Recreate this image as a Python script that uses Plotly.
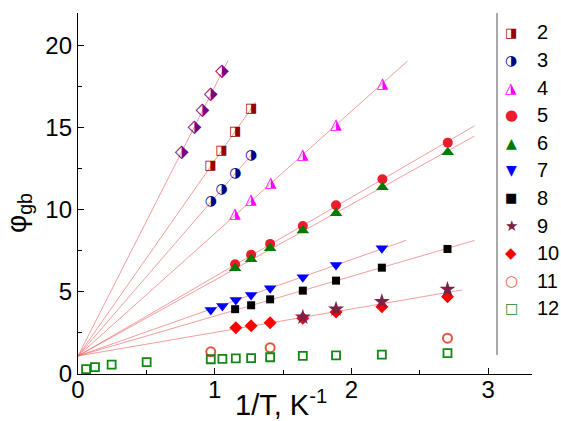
import numpy as np
import plotly.graph_objects as go

# ---- data (x = 1/T, y = phi_gb) ----
x1 = [0.759, 0.851, 0.909, 0.971, 1.053]
y1 = [13.49, 15.02, 16.04, 17.05, 18.41]
x2 = [0.968, 1.048, 1.149, 1.266]
y2 = [12.70, 13.58, 14.74, 16.14]
x3 = [0.971, 1.051, 1.151, 1.266]
y3 = [10.51, 11.26, 12.21, 13.31]
x4 = [1.149, 1.266, 1.410, 1.644, 1.887, 2.226]
y4 = [9.74, 10.61, 11.63, 13.35, 15.14, 17.66]
x5 = [1.149, 1.266, 1.405, 1.644, 1.887, 2.226, 2.704]
y5 = [6.69, 7.26, 7.93, 9.02, 10.28, 11.87, 14.10]
x6 = [1.149, 1.266, 1.405, 1.644, 1.887, 2.226, 2.704]
y6 = [6.45, 6.99, 7.66, 8.74, 9.80, 11.38, 13.52]
x7 = [0.971, 1.056, 1.154, 1.266, 1.405, 1.644, 1.887, 2.222]
y7 = [3.90, 4.15, 4.51, 4.82, 5.23, 5.90, 6.65, 7.66]
x8 = [1.149, 1.266, 1.405, 1.644, 1.887, 2.222, 2.702]
y8 = [3.95, 4.19, 4.55, 5.08, 5.69, 6.48, 7.62]
x9 = [1.644, 1.887, 2.222, 2.702]
y9 = [3.46, 3.95, 4.41, 5.16]
x10 = [1.154, 1.266, 1.405, 1.644, 1.887, 2.222, 2.702]
y10 = [2.82, 2.94, 3.13, 3.40, 3.78, 4.10, 4.71]
x11 = [0.971, 1.405, 2.702]
y11 = [1.35, 1.60, 2.18]
x12 = [0.059, 0.124, 0.246, 0.502, 0.971, 1.056, 1.154, 1.266, 1.405,
       1.644, 1.887, 2.222, 2.702]
y12 = [0.30, 0.42, 0.57, 0.72, 0.90, 0.92, 0.95, 0.97, 1.02, 1.10, 1.13,
       1.18, 1.27]

legend_names = ["2", "3", "4", "5", "6", "7", "8", "9", "10", "11", "12"]

# common intercept of the fitted lines and the x where each fit line ends
fit_intercept = 1.1
fit_groups = [["1"], ["2"], ["3"], ["4"], ["5"], ["6"], ["7"], ["8"], ["9", "10"]]
fit_end_x = [1.097, 1.30, 1.28, 2.41, 2.90, 2.90, 2.40, 2.90, 2.81]

data = {
    "1": (x1, y1), "2": (x2, y2), "3": (x3, y3), "4": (x4, y4),
    "5": (x5, y5), "6": (x6, y6), "7": (x7, y7), "8": (x8, y8),
    "9": (x9, y9), "10": (x10, y10), "11": (x11, y11), "12": (x12, y12),
}

# ---- styles ----
text_style = {  # half-filled symbols drawn as glyphs
    "1": ("\u2B17", "#800080", 18),
    "2": ("\u25E8", "#990000", 13),
    "3": ("\u25D1", "#000080", 14),
    "4": ("\u25EE", "#ff00ff", 15),
}
marker_style = {
    "5": dict(symbol="circle", color="#ec1c2c", size=10),
    "6": dict(symbol="triangle-up", color="#007a00", size=11),
    "7": dict(symbol="triangle-down", color="#0000ff", size=11),
    "8": dict(symbol="square", color="#000000", size=8),
    "9": dict(symbol="star", color="#7a2348", size=12),
    "10": dict(symbol="diamond", color="#ff0000", size=10),
    "11": dict(symbol="circle-open", color="#e5553c", size=9, line=dict(width=2, color="#e5553c")),
    "12": dict(symbol="square-open", color="#118811", size=8, line=dict(width=1.8, color="#118811")),
}
legend_glyph = {
    "5": ("\u25CF", 15), "6": ("\u25B2", 14), "7": ("\u25BC", 14),
    "8": ("\u25A0", 13), "9": ("\u2605", 15), "10": ("\u25C6", 15),
    "11": ("\u25CB", 15), "12": ("\u25A1", 14),
}
line_color = "rgba(235,100,100,0.8)"
font_family = "Liberation Sans, Arial, sans-serif"
glyph_family = "DejaVu Sans"

fig = go.Figure()

# fitted lines (least squares with fixed common intercept)
for grp, xe in zip(fit_groups, fit_end_x):
    xs = np.concatenate([np.array(data[k][0]) for k in grp])
    ys = np.concatenate([np.array(data[k][1]) for k in grp])
    slope = np.sum(xs * (ys - fit_intercept)) / np.sum(xs * xs)
    lx = np.array([0.0, xe])
    fig.add_trace(go.Scatter(x=lx, y=fit_intercept + slope * lx, mode="lines",
                             line=dict(color=line_color, width=0.8),
                             showlegend=False, hoverinfo="skip"))

for k in ["1", "2", "3", "4"]:
    g, c, s = text_style[k]
    xs, ys = data[k]
    fig.add_trace(go.Scatter(x=xs, y=ys, mode="text", text=[g] * len(xs),
                             textposition="middle center",
                             textfont=dict(family=glyph_family, size=s, color=c),
                             showlegend=False))

for k in ["5", "6", "7", "8", "10", "9", "11", "12"]:
    xs, ys = data[k]
    fig.add_trace(go.Scatter(x=xs, y=ys, mode="markers", marker=marker_style[k],
                             showlegend=False, name=k))

# ---- plot geometry ----
L, R, T, B = 78, 29, 13, 47
W, H = 561, 421
pw, ph = W - L - R, H - T - B

def px_to_paper_x(px):
    return (px - L) / pw

def px_to_paper_y(py):
    return (H - B - py) / ph

annotations = []
leg_top, leg_step = 32.3, 27.6
for i, name in enumerate(legend_names):
    py = leg_top + i * leg_step
    if name in text_style:
        g, c, s = text_style[name]
    else:
        g, s = legend_glyph[name]
        c = marker_style[name]["color"]
    annotations.append(dict(xref="paper", yref="paper", x=px_to_paper_x(511),
                            y=px_to_paper_y(py), text=g, showarrow=False,
                            xanchor="center", yanchor="middle",
                            font=dict(family=glyph_family, size=s, color=c)))
    annotations.append(dict(xref="paper", yref="paper", x=px_to_paper_x(535),
                            y=px_to_paper_y(py), text=name, showarrow=False,
                            xanchor="left", yanchor="middle",
                            font=dict(family=font_family, size=20, color="black")))

annotations.append(dict(xref="paper", yref="paper", x=px_to_paper_x(281),
                        y=px_to_paper_y(403), text="1/T, K<sup>-1</sup>",
                        showarrow=False, xanchor="center", yanchor="middle",
                        font=dict(family=font_family, size=29, color="black")))
annotations.append(dict(xref="paper", yref="paper", x=px_to_paper_x(18),
                        y=px_to_paper_y(213), text="\u03C6<sub>gb</sub>",
                        showarrow=False, xanchor="center", yanchor="middle",
                        textangle=-90,
                        font=dict(family=font_family, size=28, color="black")))

shapes = [dict(type="line", xref="paper", yref="paper",
               x0=px_to_paper_x(497), x1=px_to_paper_x(497),
               y0=px_to_paper_y(13), y1=px_to_paper_y(355),
               line=dict(color="#555555", width=1))]

fig.update_layout(
    width=W, height=H, margin=dict(l=L, r=R, t=T, b=B, pad=0),
    paper_bgcolor="white", plot_bgcolor="white",
    annotations=annotations, shapes=shapes, showlegend=False,
    font=dict(family=font_family, color="black"),
)
fig.update_xaxes(range=[0, 3.32], showline=True, linecolor="black", linewidth=1.3,
                 ticks="inside", ticklen=6, tickwidth=1, tickcolor="black",
                 tickvals=[0, 1, 2, 3], showgrid=False, zeroline=False,
                 ticklabelstandoff=-6,
                 tickfont=dict(size=24, family=font_family),
                 minor=dict(ticks="inside", ticklen=4, dtick=0.5, tick0=0,
                            tickcolor="black", showgrid=False))
fig.update_yaxes(range=[0, 22], showline=True, linecolor="black", linewidth=1.3,
                 ticks="inside", ticklen=6, tickwidth=1, tickcolor="black",
                 tickvals=[0, 5, 10, 15, 20], showgrid=False, zeroline=False,
                 tickfont=dict(size=24, family=font_family),
                 minor=dict(ticks="inside", ticklen=4, dtick=2.5, tick0=0,
                            tickcolor="black", showgrid=False))

fig.write_html("out.html")
